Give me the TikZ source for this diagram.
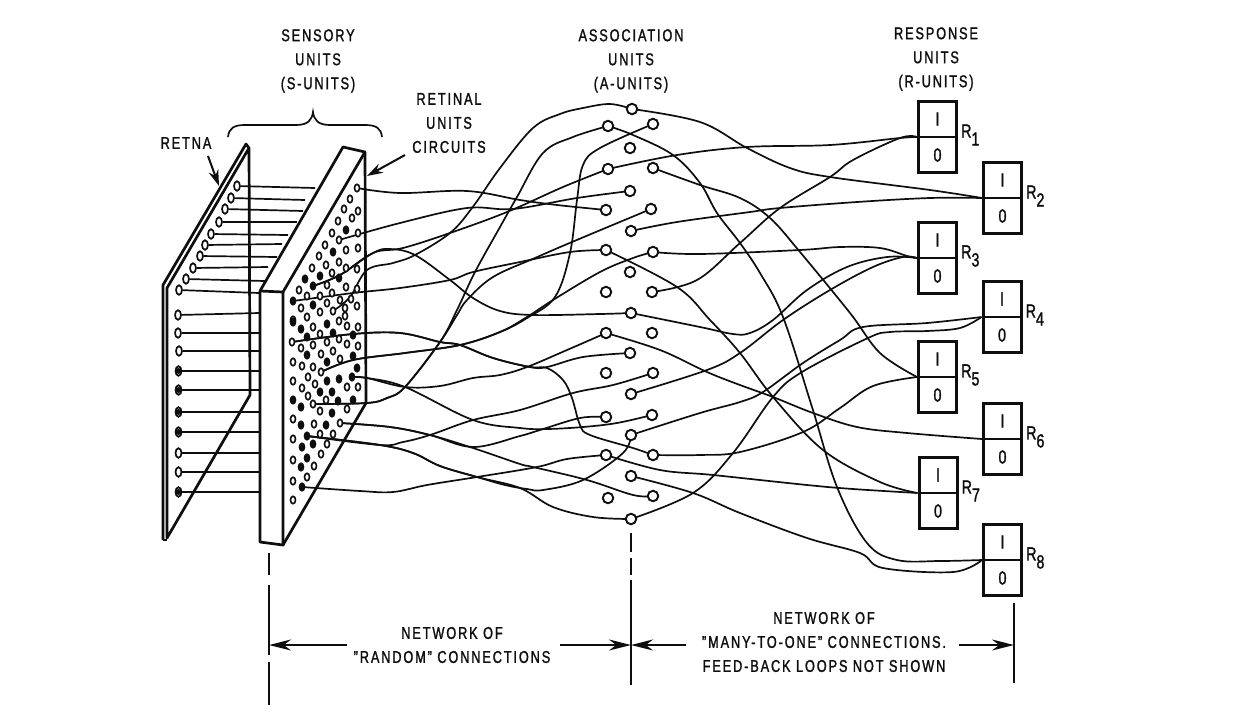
\documentclass[tikz,border=0pt]{standalone}
\usepackage{fontspec}
\setmainfont{Liberation Sans}[FakeStretch=0.75,LetterSpace=11,FakeBold=1.4]
\usetikzlibrary{arrows.meta, positioning, shapes.geometric, backgrounds}
\definecolor{tinta}{HTML}{0E0E0E}
\tikzset{
  etiqueta/.style={font=\fontsize{17}{24}\selectfont, align=center, text=tinta, inner sep=0pt},
  borde/.style={draw=tinta, line width=2.7pt, line join=round},
  bordeFino/.style={draw=tinta, line width=1.7pt},
  cable/.style={draw=tinta, line width=1.7pt, smooth, tension=0.6},
  flecha/.style={-{Stealth[length=16pt, width=10pt]}, draw=tinta, line width=2pt},
  flechaCota/.style={-{Stealth[length=22pt, width=11pt]}, draw=tinta, line width=2pt},
  cota/.style={draw=tinta, line width=2pt},
  puntoRet/.style={ellipse, draw=tinta, line width=1.7pt, fill=white, inner sep=0pt,
    minimum width=6pt, minimum height=9.5pt},
  puntoS/.style={ellipse, draw=tinta, line width=1.6pt, fill=white, inner sep=0pt,
    minimum width=5pt, minimum height=7.5pt},
  puntoSLleno/.style={puntoS, fill=tinta},
  unidadA/.style={circle, draw=tinta, line width=1.9pt, fill=white, inner sep=0pt,
    minimum size=10.5pt},
  cajaR/.style={rectangle, draw=tinta, line width=3pt, fill=white, inner sep=0pt,
    minimum width=38pt, minimum height=71pt},
  textoR/.style={font=\fontsize{19}{19}\selectfont, text=tinta, inner sep=0pt},
}
\begin{document}
\begin{tikzpicture}[x=1pt, y=-1pt]
  \useasboundingbox (0,0) rectangle (1247,713);

  % retina plate
  \draw[borde] (163,540) -- (163,285) -- (246,144) -- (249,148) -- (250,395) -- (167,538) -- (167,288) -- (249,148);
  \draw[borde] (163,540) -- (167,540);
  % sensory plate
  \draw[borde] (260,291) -- (343,147) -- (365,152) -- (283,292) -- cycle;
  \draw[borde] (260,291) -- (260,542) -- (283,545) -- (283,292);
  \draw[borde] (365,152) -- (366,403) -- (283,545);

  % retina points
  \foreach \x/\y/\ex/\ey [count=\i] in {237/186/315/188, 231/198/305/200, 225/209/303/211,
      219/222/297/222, 211/234/288/235, 205/245/282/244, 200/256/277/257, 193/268/268/267,
      186/279/265/281, 179/290/259/293, 178/315/259/313, 178/333/259/333, 179/351/259/351}{
    \node[puntoRet] (ret\i) at (\x,\y) {};
    \coordinate (fin\i) at (\ex,\ey);
  }
  \foreach \y [count=\i from 14] in {371,390,412,432,453,472,492}{
    \node[puntoRet] (ret\i) at (178.5,\y) {};
    \coordinate (fin\i) at (259,\y);
  }
  \foreach \i in {14,15,16,17,20}{\fill[tinta] (ret\i) circle (3pt);}
  \begin{scope}[on background layer]
    \foreach \i in {1,...,20}{\draw[bordeFino] (ret\i) -- (fin\i);}
  \end{scope}

  % sensory points, open ones
  \foreach \x/\y [count=\i] in {350/199, 344/209, 358/211, 338/221, 352/218, 332/233, 358/233,
      325/245, 346/250, 358/248, 319/256, 339/262, 326/265, 312/268, 346/268, 357/269,
      332/273, 327/285, 299/290, 346/287, 357/289, 307/296, 320/296, 332/293, 340/300,
      327/303, 351/299, 301/308, 320/312, 345/308, 357/306, 293/320, 307/317, 345/316,
      313/327, 339/321, 347/326, 358/327, 320/334, 313/345, 327/342, 339/339, 347/344,
      358/346, 301/348, 333/351, 321/354, 340/359, 293/362, 302/366, 313/367, 308/377,
      293/381, 302/388, 315/384, 347/387, 358/387, 308/396, 326/400, 320/411, 347/409,
      293/419, 314/424, 293/439, 320/434, 333/434, 327/444, 321/454, 293/460, 314/466,
      293/481, 307/477, 293/500}{
    \node[puntoS] (so\i) at (\x,\y) {};
  }
  % sensory points, black ones
  \foreach \x/\y [count=\i] in {346/230, 333/252, 305/279, 320/276, 339/278, 313/305, 293/322,
      327/324, 301/329, 333/333, 307/337, 353/335, 307/355, 353/356, 327/362, 357/368,
      339/379, 327/381, 320/392, 332/392, 293/400, 338/401, 353/400, 301/407, 332/413,
      301/425, 326/425, 302/447, 313/444, 307/458, 301/467}{
    \node[puntoSLleno] (sn\i) at (\x,\y) {};
  }
  % sensory points with a wire
  \foreach \n/\x/\y in {sa/357/188, sb/339/240, sd/333/311, sf/313/404, sg/321/372,
      si/292/342, sj/340/423}{
    \node[puntoS] (\n) at (\x,\y) {};
  }
  \foreach \n/\x/\y in {sc/313/286, se/293/301, sh/352/377, sk/307/436, sl/302/487}{
    \node[puntoSLleno] (\n) at (\x,\y) {};
  }

  % association units
  \foreach \x/\y [count=\i] in {632/109, 608/126, 653/124, 630/148, 608/169, 653/168, 630/191,
      606/210, 651/209, 631/231, 606/250, 653/252, 630/272, 606/292, 652/292, 631/313,
      606/333, 652/333, 630/353, 606/373, 653/373, 631/394, 606/417, 652/415, 631/435,
      606/455, 653/455, 631/476, 608/498, 653/496, 631/519}{
    \node[unidadA] (a\i) at (\x,\y) {};
  }

  % response units
  \foreach \i/\x/\y in {1/937.5/137, 2/1002.5/198, 3/937.5/258, 4/1002/317, 5/937.5/377,
      6/1002.5/439, 7/938/493, 8/1002.5/560}{
    \node[cajaR] (r\i) at (\x,\y) {};
    \draw[bordeFino] (r\i.west) -- (r\i.east);
    \node[textoR] (uno\i) at ([yshift=18pt]r\i.center) {I};
    \node[textoR] (cero\i) at ([yshift=-18pt]r\i.center) {0};
    \node[textoR, right=3pt of r\i, yshift=2pt] (nom\i) {R\raisebox{-8pt}{\i}};
  }

  \begin{scope}[on background layer]
    % sensory to association
    \draw[cable] plot coordinates {(sa) (400,193) (467,191) (520,200) (557,205) (a8)};
    \draw[cable] plot coordinates {(sb) (400,223) (467,208) (513,209) (577,198) (a7)};
    \draw[cable] plot coordinates {(sc) (340,275) (373,253) (403,248) (450,233) (507,212) (563,187) (a5)};
    \draw[cable] plot coordinates {(sc) (340,275) (373,253) (390,249) (415,255) (450,280) (473,298) (500,311) (533,315) (600,314) (a16)};
    \draw[cable] plot coordinates {(sd) (350,297) (367,270) (393,263) (415,255) (450,233) (472,208) (500,168) (533,128) (560,114) (583,108) (610,104) (a1)};
    \draw[cable] plot coordinates {(se) (353,293) (400,288) (450,280) (473,272) (520,262) (570,252) (a11)};
    \draw[cable] plot coordinates {(sf) (367,403) (387,398) (405,387) (440,342) (457,310) (475,272) (500,227) (517,197) (543,153) (573,137) (a2)};
    \draw[cable] plot coordinates {(sf) (367,403) (387,398) (405,387) (440,342) (457,315) (467,300) (493,277) (535,258) (572,242) (a9)};
    \draw[cable] plot coordinates {(sg) (353,360) (405,353) (460,345) (500,332) (527,317) (553,300) (600,272) (633,258) (a12)};
    \draw[cable] plot coordinates {(sg) (353,360) (405,353) (460,345) (500,332) (527,318) (555,297) (570,253) (577,200) (583,165) (600,148) (a3)};
    \draw[cable] plot coordinates {(sh) (367,378) (405,387) (440,386) (473,378) (500,375) (527,367) (567,350) (a17)};
    \draw[cable] plot coordinates {(sh) (367,378) (405,387) (473,420) (520,428) (547,429) (583,427) (617,423) (a24)};
    \draw[cable] plot coordinates {(si) (353,334) (400,333) (440,342) (460,345) (493,358) (530,367) (547,368) (563,380) (572,398) (580,425) (590,435) (633,448) (a27)};
    \draw[cable] plot coordinates {(si) (353,334) (400,333) (440,342) (460,345) (493,358) (530,367) (547,367) (583,357) (a19)};
    \draw[cable] plot coordinates {(sj) (390,427) (430,435) (473,448) (520,464) (533,467) (587,480) (633,495) (a30)};
    \draw[cable] plot coordinates {(sj) (390,427) (430,435) (473,447) (520,436) (540,430) (580,418) (a23)};
    \draw[cable] plot coordinates {(sk) (380,445) (403,442) (430,435) (473,420) (520,410) (573,393) (613,385) (a21)};
    \draw[cable] plot coordinates {(sk) (380,445) (413,453) (440,466) (477,477) (520,488) (553,507) (593,517) (a31)};
    \draw[cable] plot coordinates {(sk) (380,445) (413,453) (440,466) (477,477) (505,485) (527,489) (543,490) (583,480) (623,453) (a25)};
    \draw[cable] plot coordinates {(sl) (360,491) (393,492) (427,485) (477,477) (537,467) (567,459) (a26)};
    % association to response
    \draw[cable] plot coordinates {(a1) (700,122) (747,148) (790,168) (830,177) (930,190) (r2.west)};
    \draw[cable] plot coordinates {(a5) (677,155) (747,147) (830,145) (900,138) (r1.west)};
    \draw[cable] plot coordinates {(a2) (633,135) (673,155) (700,183) (717,213) (740,243) (760,273) (783,317) (812,407) (837,487) (867,543) (897,560) (940,561) (r8.west)};
    \draw[cable] plot coordinates {(a6) (700,185) (740,198) (770,218) (800,252) (850,313) (880,353) (r5.west)};
    \draw[cable] plot coordinates {(a10) (677,222) (750,212) (780,208) (857,202) (930,198) (r2.west)};
    \draw[cable] plot coordinates {(a15) (697,280) (740,243) (780,208) (830,177) (853,160) (900,138) (r1.west)};
    \draw[cable] plot coordinates {(a12) (700,254) (800,250) (840,247) (880,248) (907,256) (r3.west)};
    \draw[cable] plot coordinates {(a16) (700,327) (733,334) (750,333) (773,320) (807,290) (847,267) (887,257) (r3.west)};
    \draw[cable] plot coordinates {(a22) (707,370) (740,353) (783,320) (830,290) (873,267) (903,257) (r3.west)};
    \draw[cable] plot coordinates {(a25) (700,413) (740,402) (763,392) (803,363) (840,340) (863,327) (927,323) (r4.west)};
    \draw[cable] plot coordinates {(a31) (693,493) (733,453) (773,397) (802,372) (868,338) (890,332) (927,331) (960,328) (r4.west)};
    \draw[cable] plot coordinates {(a17) (660,350) (707,372) (740,385) (773,397) (813,413) (857,427) (907,433) (r6.west)};
    \draw[cable] plot coordinates {(a27) (700,455) (740,452) (803,432) (840,408) (873,386) (r5.west)};
    \draw[cable] plot coordinates {(a26) (660,470) (713,475) (807,485) (853,489) (r7.west)};
    \draw[cable] plot coordinates {(a11) (677,287) (710,320) (740,353) (773,397) (823,450) (880,482) (r7.west)};
    \draw[cable] plot coordinates {(a28) (693,493) (740,513) (807,538) (860,553) (883,568) (953,572) (r8.west)};
  \end{scope}

  % titles
  \node[etiqueta] (sensorial) at (318,61) {SENSORY\\UNITS\\(S-UNITS)};
  \node[etiqueta] (asociacion) at (631,61) {ASSOCIATION\\UNITS\\(A-UNITS)};
  \node[etiqueta] (respuesta) at (936,59) {RESPONSE\\UNITS\\(R-UNITS)};
  \node[etiqueta] (retinal) at (449,123) {RETINAL\\UNITS\\CIRCUITS};
  \node[etiqueta] (retna) at (186,143) {RETNA};
  \node[etiqueta] (redAzar) at (452,645) {NETWORK OF\\"RANDOM" CONNECTIONS};
  \node[etiqueta] (redMuchos) at (824,642) {NETWORK OF\\"MANY-TO-ONE" CONNECTIONS.\\FEED-BACK LOOPS NOT SHOWN};

  % brace over the plates
  \draw[bordeFino] (228,137) .. controls (229,128) and (234,125) .. (245,125) -- (296,125)
    .. controls (308,125) and (312,120) .. (313,112) .. controls (314,120) and (318,125) .. (330,125)
    -- (365,125) .. controls (376,125) and (381,128) .. (382,137);

  % pointers
  \coordinate (colaRetna) at (208,156);
  \coordinate (puntaRetna) at (219,186);
  \coordinate (puntaRetinal) at (367,176);
  \coordinate (colaRetinal) at (405,155);
  \draw[flecha] (colaRetna) -- (puntaRetna);
  \draw[flecha] (colaRetinal) -- (puntaRetinal);

  % dimension lines
  \coordinate (izq) at (269,645);
  \coordinate (medio) at (631,645);
  \coordinate (der) at (1014,645);
  \coordinate (colaA) at (347,645);
  \coordinate (colaB) at (560,645);
  \coordinate (colaC) at (686,645);
  \coordinate (colaD) at (959,645);
  \draw[cota] (269,553) -- (269,575) (269,585) -- (269,655) (269,662) -- (269,705);
  \draw[cota] (631,533) -- (631,552) (631,558) -- (631,575) (631,580) -- (631,685);
  \draw[cota] (1014,603) -- (1014,683);
  \draw[flechaCota] (colaA) -- (izq);
  \draw[flechaCota] (colaB) -- (medio);
  \draw[flechaCota] (colaC) -- (medio);
  \draw[flechaCota] (colaD) -- (der);
\end{tikzpicture}
\end{document}
